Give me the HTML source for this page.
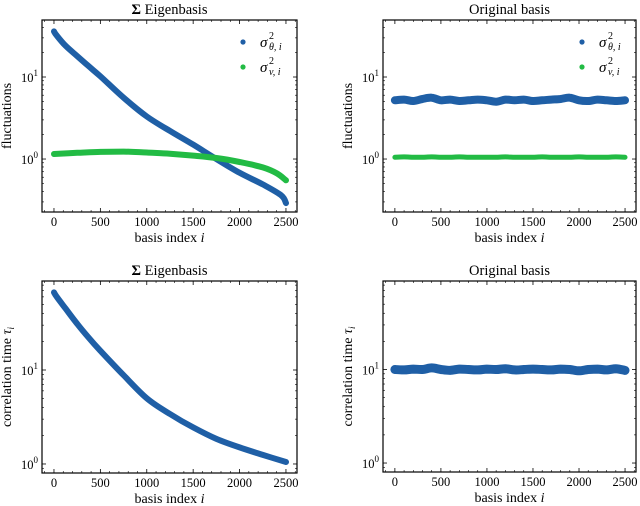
<!DOCTYPE html>
<html><head><meta charset="utf-8">
<style>
html,body{margin:0;padding:0;background:#fff;}
svg{display:block;font-family:"Liberation Serif","DejaVu Serif",serif;}
</style></head>
<body>
<svg id="fig" width="640" height="506" viewBox="0 0 640 506" xmlns="http://www.w3.org/2000/svg"></svg>
<script>
// ---- data ----
const xTicks = [0, 500, 1000, 1500, 2000, 2500];
const eigIdx = [0, 30, 125, 250, 375, 500, 750, 1000, 1250, 1500, 1750, 2000, 2250, 2450, 2500];
const eigTheta = [36, 32, 24, 18, 13.5, 10.2, 5.6, 3.3, 2.2, 1.5, 1.0, 0.68, 0.49, 0.36, 0.29];
const eigVIdx = [0, 250, 500, 750, 1000, 1250, 1500, 1750, 2000, 2250, 2400, 2500];
const eigV = [1.15, 1.19, 1.22, 1.23, 1.2, 1.16, 1.1, 1.03, 0.92, 0.79, 0.67, 0.55];
const tauIdx = [0, 30, 125, 250, 375, 500, 750, 1000, 1250, 1500, 1750, 2000, 2250, 2500];
const eigTau = [67, 60, 45, 31, 22, 16, 8.8, 5.0, 3.4, 2.45, 1.85, 1.5, 1.25, 1.05];
const origIdx = [0,100,200,300,400,500,600,700,800,900,1000,1100,1200,1300,1400,1500,1600,1700,1800,1900,2000,2100,2200,2300,2400,2500];
const origTheta = [5.2,5.3,5.1,5.4,5.6,5.2,5.3,5.1,5.2,5.3,5.2,5.0,5.3,5.2,5.3,5.1,5.2,5.3,5.4,5.6,5.2,5.1,5.3,5.2,5.1,5.2];
const origV = [1.05,1.06,1.05,1.05,1.06,1.05,1.05,1.06,1.05,1.05,1.05,1.05,1.06,1.05,1.05,1.05,1.06,1.05,1.05,1.05,1.06,1.05,1.05,1.05,1.06,1.05];
const origTau = [10,9.9,10.1,10,10.4,10,9.8,10.1,10,9.9,10.1,10,10.2,9.9,10,10.1,10,9.9,10.1,10,9.7,10,10.1,9.9,10.2,9.8];

const NS = "http://www.w3.org/2000/svg";
const fig = document.getElementById('fig');
const BLUE = "#1f5fa6", GREEN = "#22bb44";
function mk(tag, attrs, parent){ const e=document.createElementNS(NS,tag); for(const k in attrs) e.setAttribute(k,attrs[k]); (parent||fig).appendChild(e); return e; }
function smoothPath(P){
  let d='M'+P[0][0].toFixed(1)+','+P[0][1].toFixed(1);
  for(let i=0;i<P.length-1;i++){
    const p0=P[Math.max(0,i-1)],p1=P[i],p2=P[i+1],p3=P[Math.min(P.length-1,i+2)];
    const c1=[p1[0]+(p2[0]-p0[0])/6,p1[1]+(p2[1]-p0[1])/6];
    const c2=[p2[0]-(p3[0]-p1[0])/6,p2[1]-(p3[1]-p1[1])/6];
    d+=` C${c1[0].toFixed(1)},${c1[1].toFixed(1)} ${c2[0].toFixed(1)},${c2[1].toFixed(1)} ${p2[0].toFixed(1)},${p2[1].toFixed(1)}`;
  }
  return d;
}

function panel(cfg){
  const g = mk('g',{});
  
  
  const L=cfg.L,R=cfg.R,T=cfg.T,B=cfg.B;
  const xmin=-129, xmax=2619;
  const sx = v => L + (v - xmin)/(xmax - xmin)*(R-L);
  const sy = v => B - (Math.log10(v) - cfg.lmin)/(cfg.lmax - cfg.lmin)*(B-T);
  const t = mk('text',{x:(L+R)/2,y:T-6,'text-anchor':'middle','font-size':'14.5'},g);
   
  if(cfg.sigma){ const s=mk('tspan',{'font-weight':'bold'},t); s.textContent='Σ '; const s2=mk('tspan',{},t); s2.textContent='Eigenbasis'; }
  else t.textContent='Original basis';
  cfg.series.forEach(s=>{
    const P = s.x.map((xv,i)=>[sx(xv), sy(s.y[i])]);
    const pl = mk('path',{d:smoothPath(P),fill:'none',stroke:s.color,'stroke-width':s.w,'stroke-linejoin':'round','stroke-linecap':'round'},g);
    
    
  });
  const fr = mk('rect',{x:L,y:T,width:R-L,height:B-T,fill:'none',stroke:'#000','stroke-width':1.2},g);
   
  xTicks.forEach(v=>{
    const x=sx(v);
    mk('line',{x1:x,y1:B,x2:x,y2:B-4,stroke:'#000','stroke-width':0.8},g);
    mk('line',{x1:x,y1:T,x2:x,y2:T+4,stroke:'#000','stroke-width':0.8},g);
    const lab = mk('text',{x:x,y:B+14,'text-anchor':'middle','font-size':'12.5'},g);
     
    lab.textContent=v;
  });
  for(let v=-100; v<=2600; v+=100){ if(v%500===0) continue; const x=sx(v);
    mk('line',{x1:x,y1:B,x2:x,y2:B-2,stroke:'#000','stroke-width':0.6},g);
    mk('line',{x1:x,y1:T,x2:x,y2:T+2,stroke:'#000','stroke-width':0.6},g); }
  for(let d=Math.floor(cfg.lmin); d<=Math.ceil(cfg.lmax); d++){
    for(let m=1;m<10;m++){
      const lv=d+Math.log10(m); if(lv<cfg.lmin||lv>cfg.lmax) continue;
      const y=B-(lv-cfg.lmin)/(cfg.lmax-cfg.lmin)*(B-T); const len=m===1?4:2;
      mk('line',{x1:L,y1:y,x2:L+len,y2:y,stroke:'#000','stroke-width':m===1?0.8:0.6},g);
      mk('line',{x1:R,y1:y,x2:R-len,y2:y,stroke:'#000','stroke-width':m===1?0.8:0.6},g);
      if(m===1){
        const lab=mk('text',{x:L-4,y:y+5,'text-anchor':'end','font-size':'12.5'},g);
         
        lab.textContent='10'; const sp=mk('tspan',{dy:-6,'font-size':'9'},lab); sp.textContent=d;
      }
    }
  }
  const xl=mk('text',{x:(L+R)/2,y:B+30,'text-anchor':'middle','font-size':'14'},g);
   
  xl.textContent='basis index '; const it=mk('tspan',{'font-style':'italic'},xl); it.textContent='i';
  const yl=mk('text',{x:0,y:0,'text-anchor':'middle','font-size':'14',transform:`translate(${L-31},${(T+B)/2}) rotate(-90)`},g);
   
  if(cfg.tau){ yl.textContent='correlation time '; const a=mk('tspan',{'font-style':'italic'},yl); a.textContent='τ'; const b=mk('tspan',{'font-style':'italic','font-size':'9',dy:3},yl); b.textContent='i'; }
  else yl.textContent='fluctuations';
  if(cfg.legend){
    [['θ',BLUE,42],['v',GREEN,67]].forEach(([sym,col,yy])=>{
      const lg=mk('g',{},g);  
      mk('circle',{cx:R-54,cy:yy,r:2.6,fill:col},lg);
      const tx=mk('text',{x:R-37,y:yy+5,'font-size':'15','font-style':'italic'},lg); tx.textContent='σ';
      const sub=mk('text',{x:R-28,y:yy+8,'font-size':'10','font-style':'italic'},lg); sub.textContent=sym+', i';
      const sup=mk('text',{x:R-28,y:yy-3,'font-size':'10'},lg); sup.textContent='2';
    });
  }
}

const topL = 0.226, topH = 1.695, botL = -0.096, botH = 1.947;
panel({name:'eigen-fluctuations-panel',L:42,R:297,T:20,B:212,lmin:Math.log10(topL),lmax:topH,sigma:true,legend:true,
  series:[{name:'sigma-theta-series',x:eigIdx,y:eigTheta,color:BLUE,w:6},{name:'sigma-v-series',x:eigVIdx,y:eigV,color:GREEN,w:6}]});
panel({name:'original-fluctuations-panel',L:383,R:636,T:20,B:212,lmin:Math.log10(topL),lmax:topH,sigma:false,legend:true,
  series:[{name:'sigma-theta-series',x:origIdx,y:origTheta,color:BLUE,w:8},{name:'sigma-v-series',x:origIdx,y:origV,color:GREEN,w:5}]});
panel({name:'eigen-correlation-panel',L:42,R:297,T:281,B:473,lmin:botL,lmax:botH,sigma:true,tau:true,
  series:[{name:'tau-series',x:tauIdx,y:eigTau,color:BLUE,w:6}]});
panel({name:'original-correlation-panel',L:383,R:636,T:281,B:472,lmin:botL,lmax:botH,sigma:false,tau:true,
  series:[{name:'tau-series',x:origIdx,y:origTau,color:BLUE,w:9}]});
</script>
</body></html>
